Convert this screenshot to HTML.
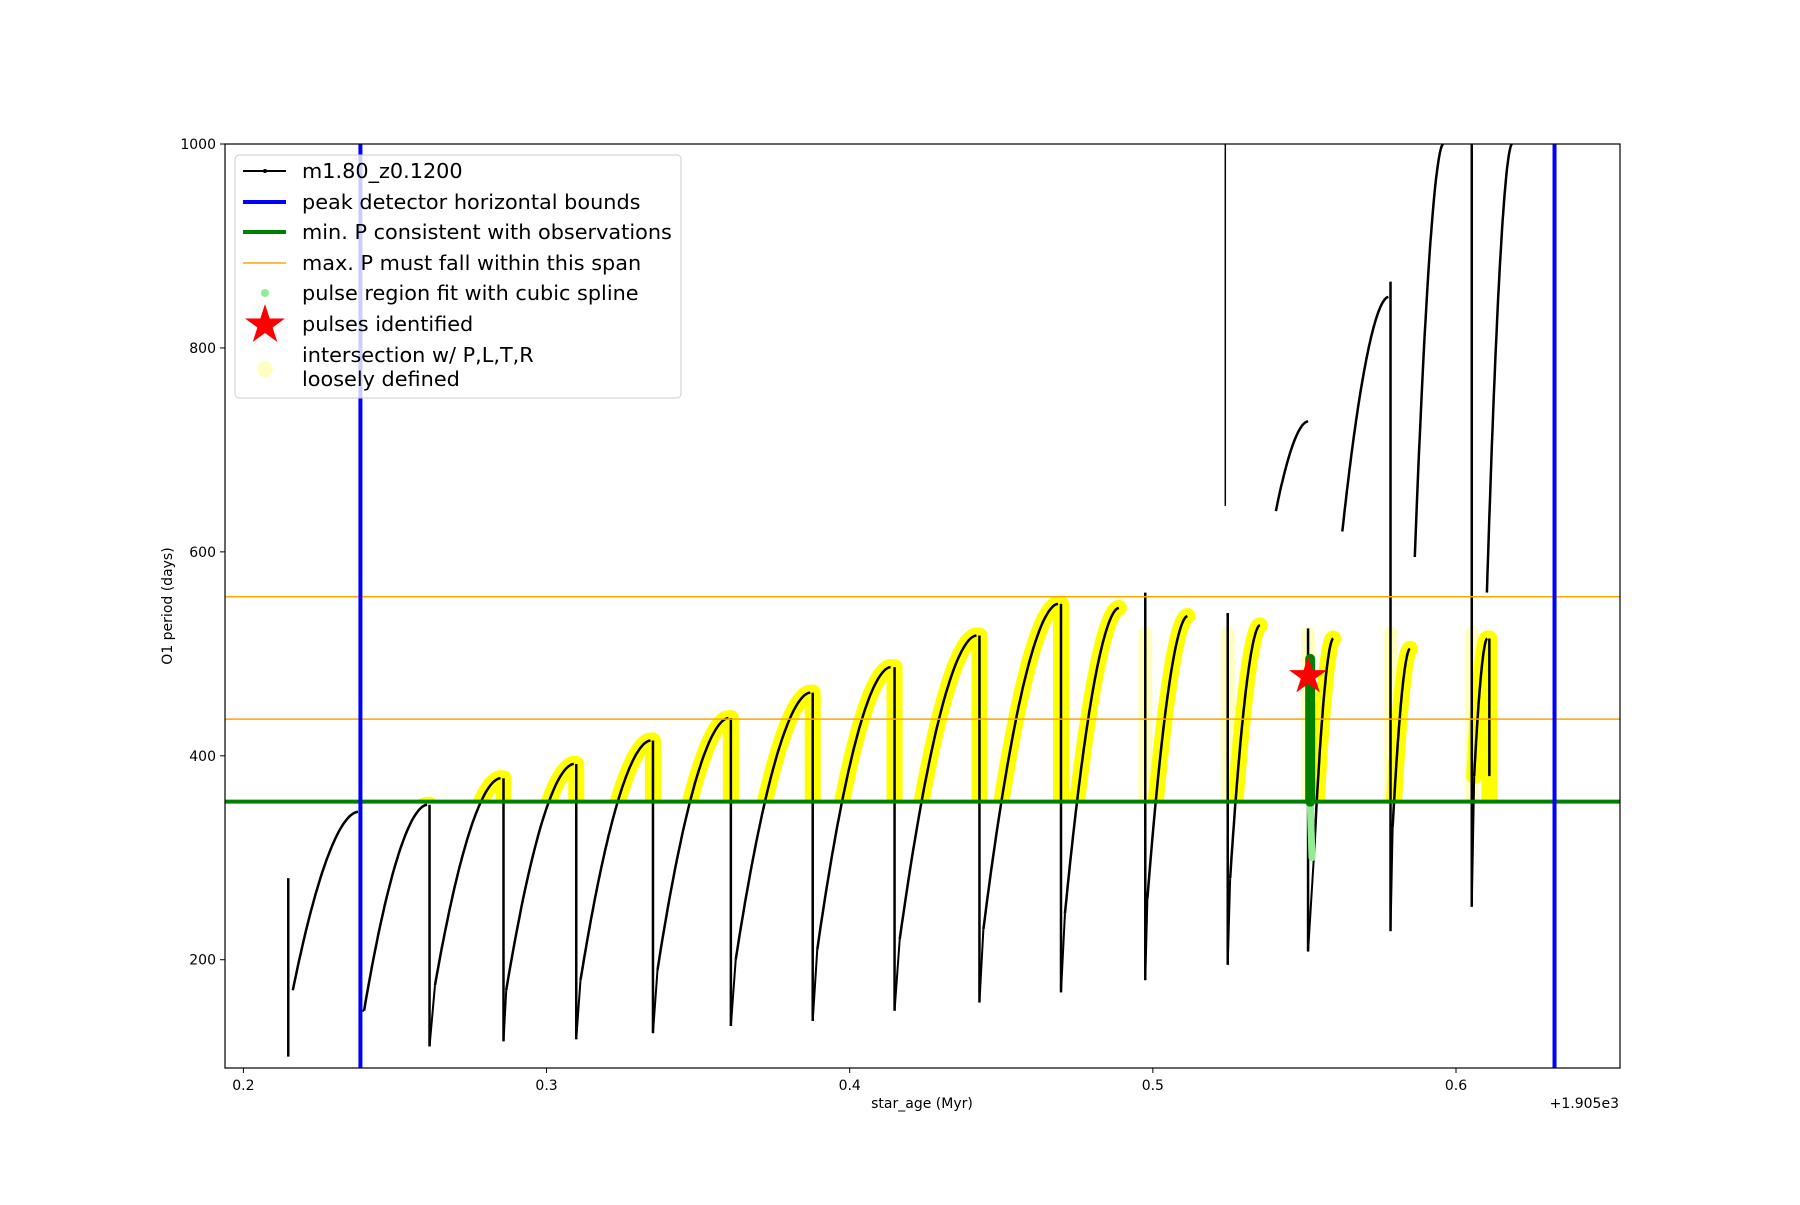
<!DOCTYPE html>
<html><head><meta charset="utf-8"><style>
body{margin:0;background:#fff;font-family:"Liberation Sans","DejaVu Sans",sans-serif}
svg text{font-family:"DejaVu Sans","Liberation Sans",sans-serif}
</style></head><body>
<svg id="chart" width="1800" height="1200" xmlns="http://www.w3.org/2000/svg">
<defs><clipPath id="plotclip"><rect x="225" y="144" width="1395" height="924"/></clipPath>
<clipPath id="aboveclip"><rect id="aboverect" x="225" y="144" width="1395" height="0"/></clipPath></defs>
<g id="plot" clip-path="url(#plotclip)"></g>
<rect x="225" y="144" width="1395" height="924" fill="none" stroke="#000" stroke-width="1.2"/>
<g id="axes"></g>
<text transform="translate(172,606) rotate(-90)" text-anchor="middle" font-size="14">O1 period (days)</text>
<text x="922" y="1108" text-anchor="middle" font-size="14">star_age (Myr)</text>
<text x="1619" y="1108" text-anchor="end" font-size="14">+1.905e3</text>
<g id="legend" font-size="20.8">
<rect x="235" y="155" width="446" height="243" rx="4" fill="#fff" fill-opacity="0.8" stroke="#ccc"/>
<line x1="243" y1="171" x2="286" y2="171" stroke="#000" stroke-width="2"/><circle cx="265" cy="171" r="2"/>
<text x="302" y="178">m1.80_z0.1200</text>
<line x1="243" y1="202" x2="286" y2="202" stroke="#0000ff" stroke-width="4"/>
<text x="302" y="209">peak detector horizontal bounds</text>
<line x1="243" y1="232" x2="286" y2="232" stroke="#008000" stroke-width="4"/>
<text x="302" y="239">min. P consistent with observations</text>
<line x1="243" y1="263" x2="286" y2="263" stroke="#ffa500" stroke-width="1.5"/>
<text x="302" y="270">max. P must fall within this span</text>
<circle cx="265" cy="293" r="4" fill="#90ee90"/>
<text x="302" y="300">pulse region fit with cubic spline</text>
<polygon id="legstar" fill="#ff0000"/>
<text x="302" y="331">pulses identified</text>
<circle cx="265" cy="369" r="8" fill="#ffffc0"/>
<text x="302" y="362">intersection w/ P,L,T,R</text>
<text x="302" y="386">loosely defined</text>
</g>
</svg>
<script>
// data
const cycStartAge=[0.2163,0.2398,0.2632,0.2867,0.3112,0.3366,0.3624,0.3893,0.4165,0.4441,0.4710,0.4982,0.5255,0.5531,0.5791,0.6060];
const cycStartP=[170,150,175,170,180,190,200,210,220,230,245,260,280,300,330,380];
const cycPeakAge=[0.2378,0.2606,0.2848,0.3090,0.3343,0.3600,0.3870,0.4135,0.4418,0.4687,0.4888,0.5114,0.5353,0.5595,0.5848,0.6103];
const cycPeakP=[345,352,378,392,415,437,462,487,518,549,545,537,528,515,505,515];
const cycDropAge=[0.2386,0.2614,0.2858,0.3098,0.3351,0.3608,0.3878,0.4148,0.4428,0.4697,0.4975,0.5247,0.5512,0.5784,0.6052,0.6110];
const cycDropTop=[345,352,378,392,415,437,462,487,518,549,560,540,525,865,1000,515];
const cycDropMin=[150,115,120,122,128,135,140,150,158,168,180,195,208,228,252,380];
const upStartAge=[0.5406,0.5625,0.5864,0.6102];
const upStartP=[640,620,595,560];
const upEndAge=[0.5512,0.5777,0.5958,0.6185];
const upEndP=[728,850,1000,1000];
const firstSpikeAge=0.2148, firstSpikeTop=280, firstSpikeMin=105;
const boundAges=[0.2386,0.6325];
const minP=[355];
const maxPSpan=[436,556];
const starAge=[0.5512], starP=[478];
const fitAge=0.5519, fitLow=300, fitHigh=495;
const xTicks=[0.2,0.3,0.4,0.5,0.6], xTickLabels=["0.2","0.3","0.4","0.5","0.6"];
const yTicks=[200,400,600,800,1000], yTickLabels=["200","400","600","800","1000"];

const X0=0.19393,X1=0.6541,Y0=93.8,Y1=1000;
const sx=a=>225+(a-X0)/(X1-X0)*1395;
const sy=p=>1068-(p-Y0)/(Y1-Y0)*924;
const NS="http://www.w3.org/2000/svg";
const plot=document.getElementById('plot');
function mk(tag,attrs,parent){const e=document.createElementNS(NS,tag);for(const k in attrs)e.setAttribute(k,attrs[k]);(parent||plot).appendChild(e);return e;}
document.getElementById('aboverect').setAttribute('height',sy(minP[0])-144);

function curvePts(a0,p0,a1,p1){const pts=[];for(let i=0;i<=40;i++){const u=i/40;const f=1-Math.pow(1-u,1.8);pts.push([sx(a0+(a1-a0)*u),sy(p0+(p1-p0)*f)]);}return pts;}
const toD=pts=>pts.map((p,i)=>(i?'L':'M')+p[0].toFixed(1)+','+p[1].toFixed(1)).join('');

const yellowG=mk('g',{'clip-path':'url(#aboveclip)'});
const blackG=mk('g',{});
for(let i=8;i<cycDropAge.length;i++){
  const c=mk('line',{x1:sx(cycDropAge[i]),x2:sx(cycDropAge[i]),y1:sy(Math.min(cycDropTop[i],520)),y2:sy(355),stroke:'#ffff80','stroke-opacity':0.5,'stroke-width':14,'stroke-linecap':'round'},yellowG);
  
  
}
for(let i=0;i<cycStartAge.length;i++){
  const pts=curvePts(cycStartAge[i],cycStartP[i],cycPeakAge[i],cycPeakP[i]);
  const near=(cycDropAge[i]-cycPeakAge[i])<0.003;
  const y=mk('path',{d:toD(pts)+(near?'L'+sx(cycDropAge[i])+','+sy(cycPeakP[i])+'L'+sx(cycDropAge[i])+','+sy(340):''),fill:'none',stroke:'#ffff00','stroke-width':16,'stroke-linecap':'round','stroke-linejoin':'round'},yellowG);
  
  
  const b=mk('path',{d:toD(pts),fill:'none',stroke:'#000','stroke-width':2.5},blackG);
  
  
  const s=mk('line',{x1:sx(cycDropAge[i]),x2:sx(cycDropAge[i]),y1:sy(cycDropTop[i]),y2:sy(cycDropMin[i]),stroke:'#000','stroke-width':2.5},blackG);
  
  
  if(i<cycStartAge.length-1){
    const c=mk('line',{x1:sx(cycDropAge[i]),x2:sx(cycStartAge[i+1]),y1:sy(cycDropMin[i]),y2:sy(cycStartP[i+1]),stroke:'#000','stroke-width':2},blackG);
    
    
  }
}
const fs=mk('line',{x1:sx(firstSpikeAge),x2:sx(firstSpikeAge),y1:sy(firstSpikeTop),y2:sy(firstSpikeMin),stroke:'#000','stroke-width':2.5},blackG);


for(let i=0;i<upStartAge.length;i++){
  const u=mk('path',{d:toD(curvePts(upStartAge[i],upStartP[i],upEndAge[i],upEndP[i])),fill:'none',stroke:'#000','stroke-width':2.5},blackG);
  
  
}
const vl=mk('line',{x1:sx(0.5239),x2:sx(0.5239),y1:sy(1000),y2:sy(645),stroke:'#000','stroke-width':1.5},blackG);


const g=mk('line',{x1:225,x2:1620,y1:sy(minP[0]),y2:sy(minP[0]),stroke:'#008000','stroke-width':4});


maxPSpan.forEach(p=>{const o=mk('line',{x1:225,x2:1620,y1:sy(p),y2:sy(p),stroke:'#ffa500','stroke-width':1.5});

});
boundAges.forEach(a=>{const l=mk('line',{x1:sx(a),x2:sx(a),y1:144,y2:1068,stroke:'#0000ff','stroke-width':4});

});
const lg=mk('line',{x1:sx(fitAge),x2:sx(fitAge+0.0006),y1:sy(355),y2:sy(fitLow),stroke:'#90ee90','stroke-width':7,'stroke-linecap':'round'});


const dg=mk('line',{x1:sx(fitAge),x2:sx(fitAge),y1:sy(fitHigh),y2:sy(355),stroke:'#008000','stroke-width':10,'stroke-linecap':'round'});


function starPts(cx,cy,R){const r=R*0.38;let s=[];for(let k=0;k<10;k++){const a=-Math.PI/2+k*Math.PI/5;const rr=k%2?r:R;s.push((cx+rr*Math.cos(a)).toFixed(1)+','+(cy+rr*Math.sin(a)).toFixed(1));}return s.join(' ');}
starAge.forEach((a,i)=>{const st=mk('polygon',{points:starPts(sx(a),sy(starP[i]),20),fill:'#ff0000'});

});
document.getElementById('legstar').setAttribute('points',starPts(265,325,21));
const ax=document.getElementById('axes');
xTicks.forEach((t,i)=>{const x=sx(t);mk('line',{x1:x,x2:x,y1:1068,y2:1073,stroke:'#000'},ax);
const tx=mk('text',{x:x,y:1090,'text-anchor':'middle','font-size':14},ax);tx.textContent=xTickLabels[i];

});
yTicks.forEach((t,i)=>{const y=sy(t);mk('line',{x1:220,x2:225,y1:y,y2:y,stroke:'#000'},ax);
const tx=mk('text',{x:216,y:y+5,'text-anchor':'end','font-size':14},ax);tx.textContent=yTickLabels[i];

});
</script>
</body></html>
